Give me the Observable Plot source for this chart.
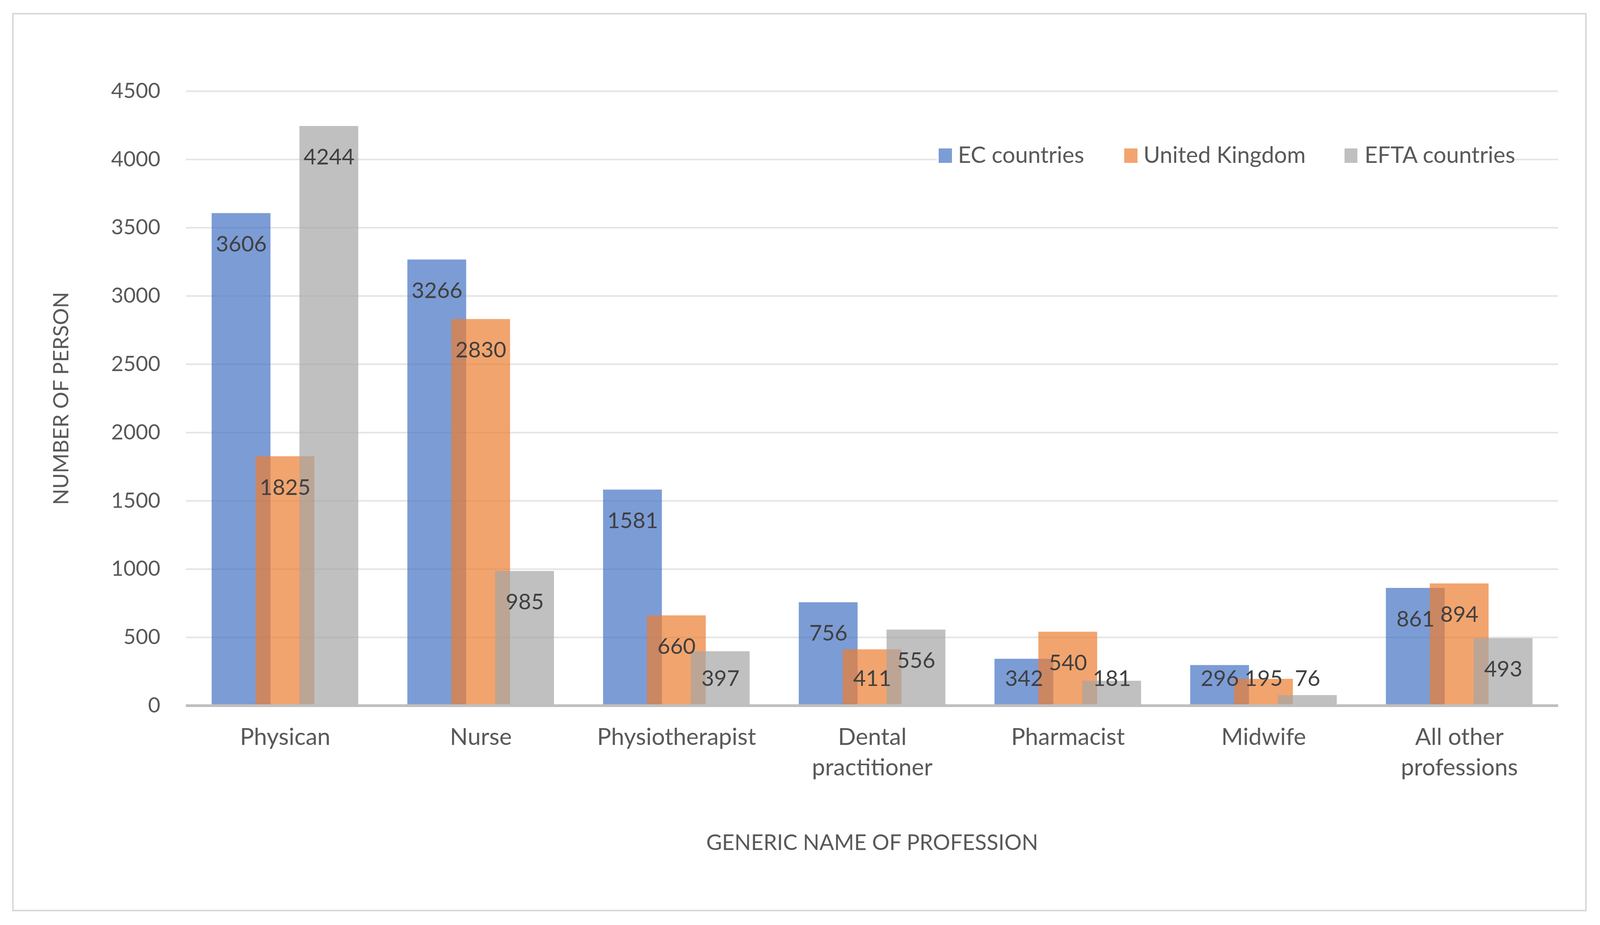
<!DOCTYPE html>
<html>
<head>
<meta charset="utf-8">
<script src="https://cdn.jsdelivr.net/npm/d3@7"></script>
<script src="https://cdn.jsdelivr.net/npm/@observablehq/plot@0.6"></script>
<style>
  html, body { margin: 0; padding: 0; background: #ffffff; overflow: hidden; }
  #chart { position: relative; font-family: Lato, "Open Sans", sans-serif; }
  #frame { position: absolute; box-sizing: border-box; border-style: solid; border-color: #D9D9D9; }
  #legend { position: absolute; background: #ffffff; z-index: 2; color: #595959; white-space: nowrap; }
  .sw { position: absolute; }
  .lt { position: absolute; line-height: 1; }
</style>
</head>
<body>
<div id="chart"><div id="frame"></div><div id="legend"></div></div>
<script>
const categories = ["Physican", "Nurse", "Physiotherapist", "Dental\npractitioner", "Pharmacist", "Midwife", "All other\nprofessions"];
const seriesNames = ["EC countries", "United Kingdom", "EFTA countries"];
const ecValues = [3606, 3266, 1581, 756, 342, 296, 861];
const ukValues = [1825, 2830, 660, 411, 540, 195, 894];
const eftaValues = [4244, 985, 397, 556, 181, 76, 493];
const yTicks = [0, 500, 1000, 1500, 2000, 2500, 3000, 3500, 4000, 4500];
const colors = ["#4472C4", "#ED7D31", "#A5A5A5"];

const seriesValues = [ecValues, ukValues, eftaValues];
const W0 = 4356, H0 = 2368;
const W = window.innerWidth || W0, H = window.innerHeight || H0;
const sx = W / W0, sy = H / H0, sf = Math.sqrt(sx * sy);

const chart = document.getElementById("chart");
chart.style.width = W + "px";
chart.style.height = H + "px";
const frame = document.getElementById("frame");
Object.assign(frame.style, {left: 33 * sx + "px", top: 33 * sy + "px", width: 4287 * sx + "px", height: 2300 * sy + "px", borderWidth: 5 * sf + "px"});

const bandW = (4242 - 506) * sx / categories.length;
const barW = 161 * sx, step = 119.5 * sx;
const inset = (bandW - barW) / 2;

const marks = [
  Plot.gridY(yTicks.filter(t => t > 0), {stroke: "#E4E4E4", strokeOpacity: 1, strokeWidth: 4 * sy})
];
seriesValues.forEach((vals, s) => {
  const data = categories.map((c, i) => ({cat: c, value: vals[i]}));
  marks.push(Plot.barY(data, {x: "cat", y1: 0, y2: "value", fill: colors[s], fillOpacity: 0.7,
    dx: (s - 1) * step, insetLeft: inset, insetRight: inset}));
});
marks.push(Plot.ruleY([0], {stroke: "#BFBFBF", strokeWidth: 7 * sy}));
seriesValues.forEach((vals, s) => {
  const data = categories.map((c, i) => ({cat: c, value: vals[i]}));
  marks.push(Plot.text(data, {x: "cat", y: d => Math.max(d.value, 426), text: d => String(d.value),
    dx: (s - 1) * step, dy: 80 * sy, fill: "#404040", fontSize: 58 * sf}));
});
marks.push(Plot.axisY({ticks: yTicks, tickFormat: d => String(d), tickSize: 0, tickPadding: 70 * sx, fontSize: 56 * sf, label: null}));
marks.push(Plot.axisX({tickSize: 0, tickPadding: 45 * sy, fontSize: 62 * sf, lineHeight: 1.3, label: null}));
marks.push(Plot.text(["NUMBER OF PERSON"], {frameAnchor: "left", textAnchor: "middle", dx: -339 * sx, rotate: -90, fontSize: 56 * sf, fill: "#595959"}));
marks.push(Plot.text(["GENERIC NAME OF PROFESSION"], {frameAnchor: "bottom", dy: 369 * sy, fontSize: 57 * sf, fill: "#595959"}));

const plot = Plot.plot({
  width: W, height: H,
  marginLeft: 506 * sx, marginRight: 114 * sx, marginTop: 233 * sy, marginBottom: 562 * sy,
  x: {domain: categories, padding: 0},
  y: {domain: [0, 4500]},
  style: {fontFamily: "Lato, 'Open Sans', sans-serif", color: "#595959", background: "transparent"},
  marks
});
plot.style.position = "absolute";
plot.style.left = "0px";
plot.style.top = "0px";
plot.style.maxWidth = "none";
chart.appendChild(plot);

// legend (reference-pixel positions, scaled to the viewport)
const legend = document.getElementById("legend");
Object.assign(legend.style, {left: 2550 * sx + "px", top: 362 * sy + "px", width: (4122 - 2550) * sx + "px", height: 72 * sy + "px", fontSize: 60 * sf + "px"});
const swX = [2556, 3061, 3660], txtX = [2608, 3113, 3715];
seriesNames.forEach((n, i) => {
  const sw = document.createElement("div");
  sw.className = "sw";
  Object.assign(sw.style, {left: (swX[i] - 2550) * sx + "px", top: (380 - 362) * sy + "px", width: 36 * sx + "px", height: 37 * sy + "px", background: colors[i], opacity: 0.7});
  const t = document.createElement("div");
  t.className = "lt";
  t.textContent = n;
  Object.assign(t.style, {left: (txtX[i] - 2550) * sx + "px", top: (398 - 362) * sy + "px", transform: "translateY(-55%)"});
  legend.appendChild(sw); legend.appendChild(t);
});
</script>
</body>
</html>
